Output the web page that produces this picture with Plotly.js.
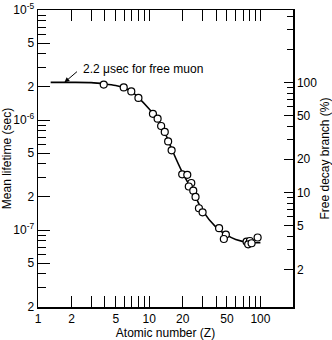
<!DOCTYPE html>
<html>
<head>
<meta charset="utf-8">
<script src="https://cdn.plot.ly/plotly-3.0.1.min.js"></script>
<style>html,body{margin:0;padding:0;background:#fff;}#chart{width:332px;height:340px;}</style>
</head>
<body>
<div id="chart"></div>
<script>
// Measured points: atomic number Z and mean lifetime (s)
const Z_points = [3.9, 5.9, 6.9, 8.0, 10.8, 11.9, 12.8, 13.8, 14.8, 15.9, 19.8, 22.0, 23.9, 22.7, 24.9, 26.1, 28.0, 30.2, 42.5, 48.9, 46.9, 75.1, 80.4, 77.6, 83.3, 94.4];
const tau_points = [2.1e-6, 1.98e-6, 1.82e-6, 1.59e-6, 1.14e-6, 1.03e-6, 8.83e-7, 7.8e-7, 6.4e-7, 5.31e-7, 3.21e-7, 3.18e-7, 2.68e-7, 2.49e-7, 2.28e-7, 2.0e-7, 1.58e-7, 1.45e-7, 1.04e-7, 9.1e-8, 8.3e-8, 7.85e-8, 7.96e-8, 7.43e-8, 7.59e-8, 8.56e-8];

// Smooth curve
const Z_curve = [1.3, 2, 3, 4, 5, 6, 7, 8, 10, 12, 14, 16, 20, 25, 30, 40, 50, 60, 80, 100];
const tau_curve = [2.2e-6, 2.2e-6, 2.19e-6, 2.13e-6, 2.06e-6, 1.96e-6, 1.8e-6, 1.6e-6, 1.26e-6, 1.0e-6, 7.5e-7, 5.4e-7, 3.3e-7, 2.2e-7, 1.52e-7, 1.06e-7, 9.0e-8, 8.2e-8, 7.7e-8, 7.7e-8];

const TAU_FREE = 2.2e-6; // free muon lifetime

// Tick labels
const x_tickvals = [1, 2, 5, 10, 20, 50, 100];
const x_ticktext = ['1', '2', '5', '10', '20', '50', '100'];
const x_minor = [3, 4, 6, 7, 8, 9, 30, 40, 60, 70, 80, 90, 200];
const y_tickvals = [2e-8, 5e-8, 1e-7, 2e-7, 5e-7, 1e-6, 2e-6, 5e-6, 1e-5];
const y_ticktext = ['2', '5', '10<sup>-7</sup>', '2', '5', '10<sup>-6</sup>', '2', '5', '10<sup>-5</sup>'];
const y_minor = [3e-8, 4e-8, 6e-8, 7e-8, 8e-8, 9e-8, 3e-7, 4e-7, 6e-7, 7e-7, 8e-7, 9e-7, 3e-6, 4e-6, 6e-6, 7e-6, 8e-6, 9e-6];
const y2_tickvals = [2, 5, 10, 20, 50, 100];
const y2_ticktext = ['2', '5', '10', '20', '50', '100'];
const y2_minor = [3, 4, 6, 7, 8, 9, 30, 40, 60, 70, 80, 90, 200, 300, 400];

const yMin = 2e-8, yMax = 1.0003e-5;
const FONT = 'Liberation Sans, Arial, sans-serif';

const traces = [
  {x: Z_curve, y: tau_curve, mode: 'lines', line: {color: '#000', width: 1.6, shape: 'spline', smoothing: 0.8},
   hoverinfo: 'skip', showlegend: false},
  {x: Z_points, y: tau_points, mode: 'markers',
   marker: {symbol: 'circle', size: 7, color: '#fff', line: {color: '#000', width: 1.2}},
   showlegend: false},
  {x: Z_curve, y: tau_curve.map(t => t / TAU_FREE * 100), yaxis: 'y2', mode: 'lines',
   line: {color: 'rgba(0,0,0,0)', width: 0}, hoverinfo: 'skip', showlegend: false}
];

const axisCommon = {
  type: 'log', showgrid: false, zeroline: false, showline: true, linecolor: '#000', linewidth: 1.5,
  color: '#000', ticklabeloverflow: 'allow',
  ticks: 'inside', tickcolor: '#000', tickwidth: 1, tickmode: 'array',
  tickfont: {family: FONT, size: 12, color: '#000'}
};

const layout = {
  width: 332, height: 340,
  margin: {l: 38, r: 39, t: 10, b: 33},
  paper_bgcolor: '#fff', plot_bgcolor: '#fff',
  font: {family: FONT, size: 12, color: '#000'},
  xaxis: Object.assign({}, axisCommon, {
    range: [0, 2.293], tickvals: x_tickvals, ticktext: x_ticktext, ticklen: 11,
    mirror: 'allticks',
    minor: {tickmode: 'array', tickvals: x_minor, ticks: 'inside', ticklen: 8, tickcolor: '#000', tickwidth: 1},
    title: {text: 'Atomic number (Z)', font: {family: FONT, size: 12, color: '#000'}, standoff: 9}
  }),
  yaxis: Object.assign({}, axisCommon, {
    range: [Math.log10(yMin), Math.log10(yMax)], tickvals: y_tickvals, ticktext: y_ticktext, ticklen: 12,
    minor: {tickmode: 'array', tickvals: y_minor, ticks: 'inside', ticklen: 8, tickcolor: '#000', tickwidth: 1},
    title: {text: 'Mean lifetime (sec)', font: {family: FONT, size: 12, color: '#000'}, standoff: 2}
  }),
  yaxis2: Object.assign({}, axisCommon, {
    overlaying: 'y', side: 'right', anchor: 'x',
    range: [Math.log10(yMin / TAU_FREE * 100), Math.log10(yMax / TAU_FREE * 100)],
    tickvals: y2_tickvals, ticktext: y2_ticktext, ticklen: 9,
    minor: {tickmode: 'array', tickvals: y2_minor, ticks: 'inside', ticklen: 6, tickcolor: '#000', tickwidth: 1},
    title: {text: 'Free decay branch (%)', font: {family: FONT, size: 12, color: '#000'}, standoff: 4}
  }),
  annotations: [
    {x: 0.383, y: -5.54, xref: 'x', yref: 'y', text: '2.2 μsec for free muon', showarrow: false,
     xanchor: 'left', yanchor: 'middle', font: {family: FONT, size: 12, color: '#000'}},
    {x: Math.log10(1.73), y: Math.log10(TAU_FREE), xref: 'x', yref: 'y', text: '', showarrow: true,
     ax: 14, ay: -12, arrowhead: 2, arrowsize: 1, arrowwidth: 1, arrowcolor: '#000', standoff: 0}
  ]
};

Plotly.newPlot('chart', traces, layout, {staticPlot: true, displayModeBar: false});
</script>
</body>
</html>
